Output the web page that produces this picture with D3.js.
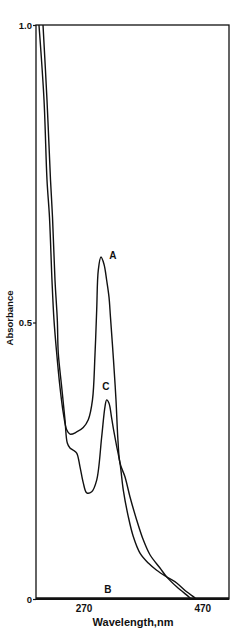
<!DOCTYPE html>
<html>
<head>
<meta charset="utf-8">
<script src="https://cdn.jsdelivr.net/npm/d3@7/dist/d3.min.js"></script>
<style>
  body { margin:0; background:#fff; }
  #chart { width:242px; height:632px; }
  text { font-family: "Liberation Sans", Arial, sans-serif; font-weight:bold; fill:#111; }
</style>
</head>
<body>
<div id="chart"></div>
<script>
// wavelength (nm) / absorbance
var curveA_nm  = [195, 203.5, 208.5, 212.7, 216.9, 220.3, 224.8, 230.4, 236, 241.7, 247.2, 258.5, 269.6, 278, 285.1, 289.3, 292.2, 294.9, 299.4, 304.5, 309, 312.9, 315.4, 320.5, 324.7, 328, 331.4, 339.8, 348.2, 359.5, 370.6, 381.9, 398.8, 410, 426.9, 449.3, 451]
var curveA_abs = [1.0, 0.874, 0.74, 0.677, 0.571, 0.504, 0.445, 0.383, 0.336, 0.306, 0.298, 0.302, 0.31, 0.324, 0.36, 0.441, 0.521, 0.588, 0.61, 0.598, 0.571, 0.543, 0.509, 0.432, 0.36, 0.287, 0.246, 0.221, 0.185, 0.143, 0.107, 0.08, 0.056, 0.04, 0.022, 0.002, 0]

var curveC_nm  = [201.8, 208.5, 214.4, 217.8, 222, 225.9, 227.5, 233.3, 238.8, 242.7, 247.2, 252.8, 258.5, 264.1, 269.6, 275.4, 283.8, 292.2, 300.6, 306.2, 309, 312.9, 317.4, 321.3, 325.5, 331.4, 337, 345.4, 353.8, 365.1, 379.1, 393.2, 410, 426.9, 443.7, 457.7, 459]
var curveC_abs = [1.0, 0.874, 0.74, 0.677, 0.571, 0.504, 0.445, 0.383, 0.324, 0.282, 0.273, 0.269, 0.264, 0.239, 0.21, 0.192, 0.194, 0.215, 0.293, 0.348, 0.36, 0.354, 0.327, 0.302, 0.278, 0.246, 0.197, 0.149, 0.113, 0.083, 0.065, 0.052, 0.04, 0.029, 0.013, 0.002, 0]

var curveB_nm  = [190, 515]
var curveB_abs = [0.002, 0.002]

var xTicks = [270, 470]
var yTicks = [0, 0.5, 1.0]
var yTickLabels = ["0", "0.5", "1.0"]

// label name, wavelength, absorbance
var curveLabels = [["A", 319.6, 0.613], ["C", 307.8, 0.385], ["B", 311.2, 0.018]]

function zip(xs, ys) {
  let out = []
  xs.forEach((x, i) => out.push({x: x, y: ys[i]}))
  return out
}

function drawChart(elId_t) {
  let chartElement = document.getElementById(elId_t)
  let margin = {top:25, right:13, bottom:33, left:36},
      width  = 242 - margin.left - margin.right,
      height = 632 - margin.top - margin.bottom

  let svg = d3.select(chartElement)
      .append("svg")
      .attr("width", 242)
      .attr("height", 632)

  let chart = svg.append("g")
      .attr("transform", "translate(" + margin.left + "," + margin.top + ")")

  var xScale = d3.scaleLinear()
      .domain([190, 515])
      .range([0, width])

  // the scan is slightly stretched, so the 0.5 tick is not at mid height
  var yScale = d3.scaleLinear()
      .domain([0, 0.5, 1.0])
      .range([height, height - 276.5, 0])

  chart.append("clipPath")
    .attr("id", "plotclip")
    .append("rect")
    .attr("width", width)
    .attr("height", height)

  var line = d3.line()
      .x(function(d){ return xScale(d.x) })
      .y(function(d){ return yScale(d.y) })
      .curve(d3.curveCatmullRom.alpha(0.5))

  var series = [zip(curveA_nm, curveA_abs), zip(curveC_nm, curveC_abs), zip(curveB_nm, curveB_abs)]

  chart.append("g")
    .attr("clip-path", "url(#plotclip)")
    .selectAll(".curve")
    .data(series)
    .enter()
    .append("path")
    .attr("class", "curve")
    .attr("d", line)
    .attr("fill", "none")
    .attr("stroke", "#111")
    .attr("stroke-width", 1.4)

  // frame
  chart.append("rect")
    .attr("width", width)
    .attr("height", height)
    .attr("fill", "none")
    .attr("stroke", "#111")
    .attr("stroke-width", 1.3)

  chart.append("line")
    .attr("x1", 0).attr("x2", width)
    .attr("y1", height).attr("y2", height)
    .attr("stroke", "#111")
    .attr("stroke-width", 2.2)

  var yAxis = chart.append("g")
    .call(d3.axisLeft(yScale).tickValues(yTicks).tickSize(3).tickFormat(function(d, i){ return yTickLabels[i] }))
  yAxis.select(".domain").remove()
  yAxis.selectAll("line").attr("stroke", "#111").attr("stroke-width", 1.2)
  yAxis.selectAll("text").attr("font-size", 9.5).attr("fill", "#111").attr("x", -4)

  var xAxis = chart.append("g")
    .attr("transform", "translate(0," + height + ")")
    .call(d3.axisBottom(xScale).tickValues(xTicks).tickSize(0).tickFormat(d3.format("d")))
  xAxis.select(".domain").remove()
  xAxis.selectAll("text").attr("font-size", 10).attr("fill", "#111").attr("dy", "1em")

  chart.selectAll(".curvelabel")
    .data(curveLabels)
    .enter()
    .append("text")
    .attr("class", "curvelabel")
    .attr("x", function(d){ return xScale(d[1]) })
    .attr("y", function(d){ return yScale(d[2]) })
    .attr("text-anchor", "middle")
    .attr("dominant-baseline", "central")
    .attr("font-size", 10)
    .text(function(d){ return d[0] })

  svg.append("text")
    .attr("x", 133)
    .attr("y", 626)
    .attr("text-anchor", "middle")
    .attr("font-size", 11)
    .text("Wavelength,nm")

  svg.append("text")
    .attr("transform", "translate(13,318) rotate(-90)")
    .attr("text-anchor", "middle")
    .attr("font-size", 9.5)
    .text("Absorbance")
}

drawChart("chart")
</script>
</body>
</html>
